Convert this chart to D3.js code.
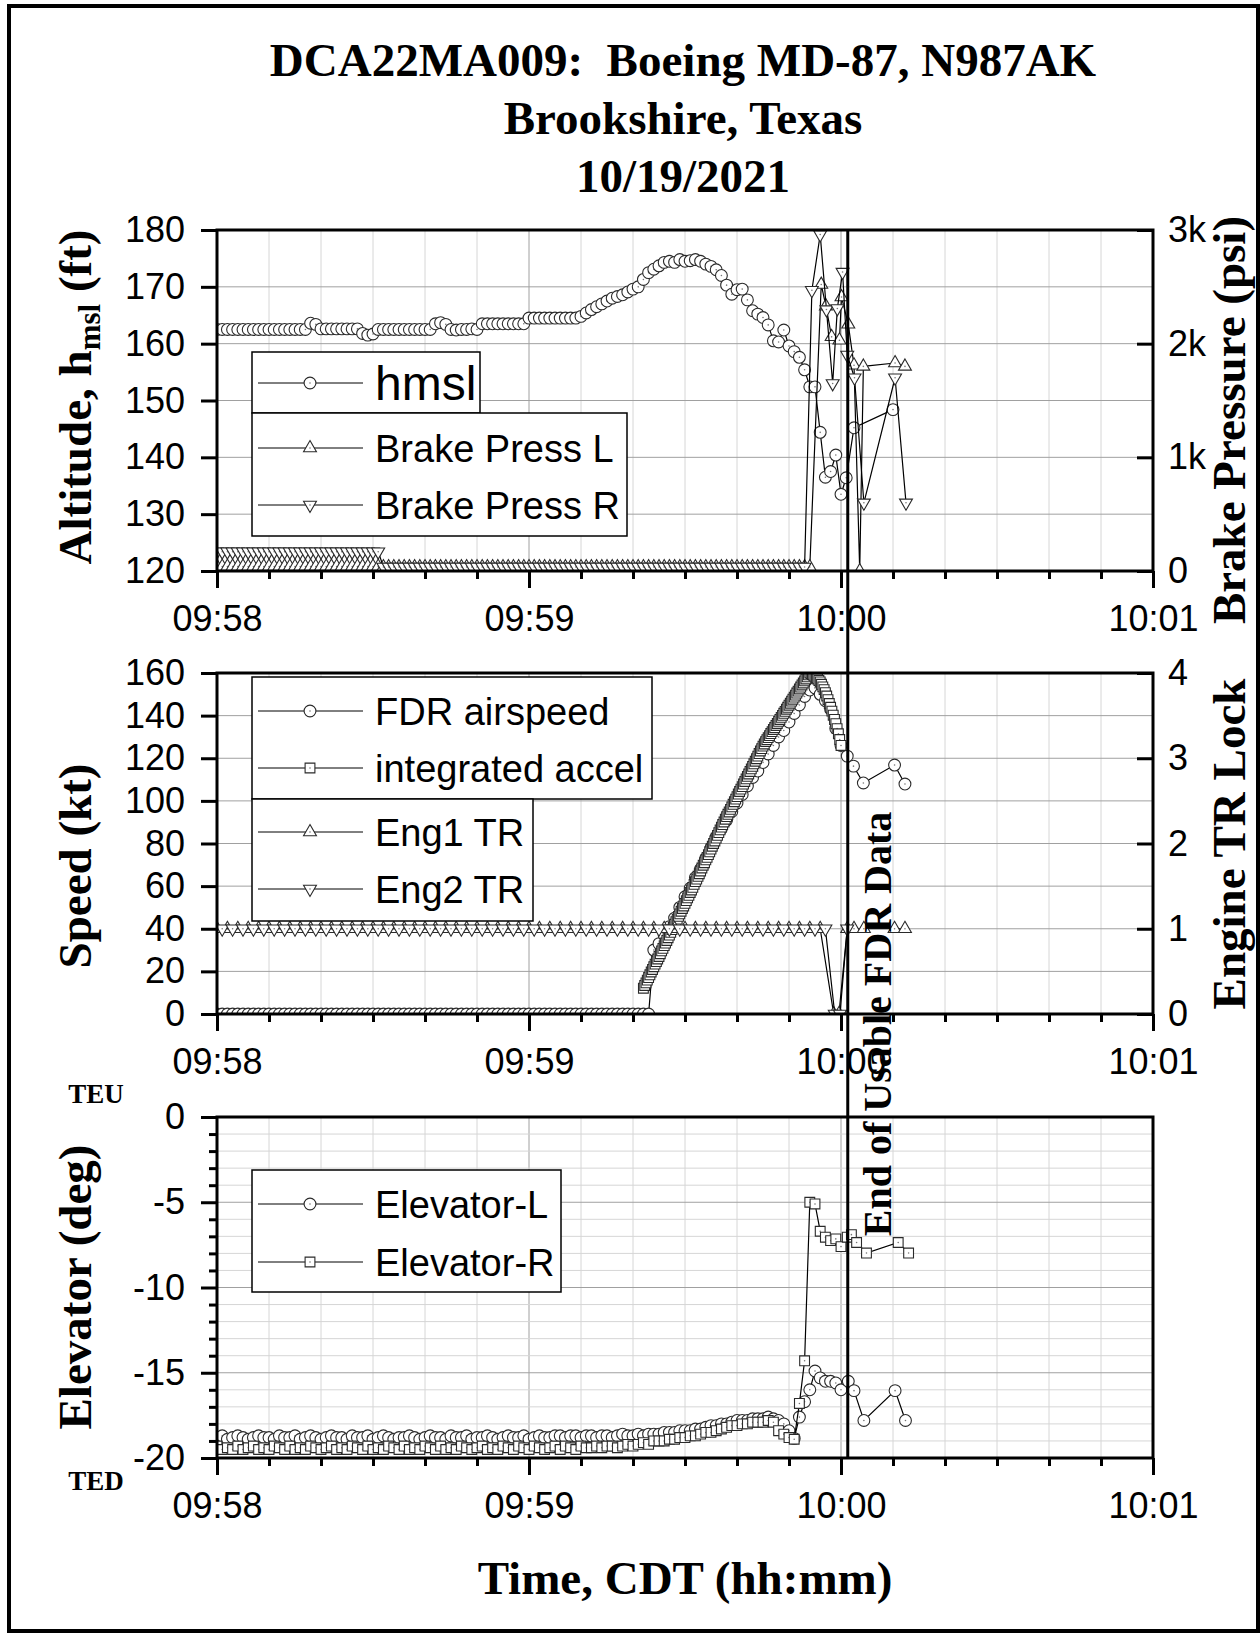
<!DOCTYPE html>
<html>
<head>
<meta charset="utf-8">
<script src="https://d3js.org/d3.v7.min.js"></script>
<style>
  body { margin: 0; background: #fff; }
</style>
</head>
<body>
<script>

// time axis: seconds after 09:58:00
var majorTimes = [0, 60, 120, 180];
var majorLabels = ["09:58", "09:59", "10:00", "10:01"];
var endOfDataTime = 121.3;

// hmsl (ft), 1 Hz from 09:58:00
var hmslValues = [
  162.5,162.5,162.5,162.5,162.5,162.5,162.5,162.5,162.5,162.5,
  162.5,162.5,162.5,162.5,162.5,162.5,162.5,162.5,163.6,163.4,
  162.6,162.6,162.6,162.6,162.6,162.6,162.6,162.6,161.8,161.5,
  161.7,162.5,162.5,162.5,162.5,162.5,162.5,162.5,162.5,162.5,
  162.5,162.5,163.5,163.7,163.4,162.5,162.4,162.5,162.5,162.6,
  162.5,163.5,163.5,163.5,163.5,163.5,163.5,163.5,163.5,163.5,
  164.5,164.5,164.5,164.5,164.5,164.5,164.5,164.5,164.5,164.5,
  164.8,165.4,166.0,166.5,167.0,167.5,168.0,168.3,168.6,169.1,
  169.6,170.0,171.3,172.5,173.1,173.7,174.3,174.5,174.3,174.8,
  174.5,174.6,174.8,174.5,174.0,173.6,173.0,172.0,170.3,168.7,
  169.5,169.6,167.7,165.8,165.2,164.6,163.3,160.5,160.3,162.4,
  159.6,158.6,157.6,155.4,152.4,152.4,144.4,136.5,137.5,140.4,
  133.5,136.4
];
var hmslLateTime = [122.5, 130.0];
var hmslLateValues = [145.2, 148.4];

// brake pressure (psi), 1 Hz from 09:58:00
var brakeLValues = [
  40,40,40,40,40,40,40,40,40,40,40,40,40,40,40,40,
  40,40,40,40,40,40,40,40,40,40,40,40,40,40,40,40,
  35,35,35,35,35,35,35,35,35,35,35,35,35,35,35,35,
  35,35,35,35,35,35,35,35,35,35,35,35,35,35,35,35,
  35,35,35,35,35,35,35,35,35,35,35,35,35,35,35,35,
  35,35,35,35,35,35,35,35,35,35,35,35,35,35,35,35,
  35,35,35,35,35,35,35,35,35,35,35,35,35,35,35,35,
  35,35,35
];
var brakeLLateTime = [116.2, 117.1, 118.2, 119.7, 120.1, 121.4, 122.5, 123.6, 124.3, 130.4, 132.3];
var brakeLLateValues = [2520, 2330, 2060, 2030, 2410, 2170, 1810, 0, 1800, 1830, 1800];

var brakeRValues = [
  170,170,170,170,170,170,170,170,170,170,170,170,170,170,170,170,
  170,170,170,170,170,170,170,170,170,170,170,170,170,170,170,170,
  35,35,35,35,35,35,35,35,35,35,35,35,35,35,35,35,
  35,35,35,35,35,35,35,35,35,35,35,35,35,35,35,35,
  35,35,35,35,35,35,35,35,35,35,35,35,35,35,35,35,
  35,35,35,35,35,35,35,35,35,35,35,35,35,35,35,35,
  35,35,35,35,35,35,35,35,35,35,35,35,35,35,35,35,
  35,35
];
var brakeRLateTime = [114.4, 116.0, 117.2, 118.4, 119.3, 120.3, 121.2, 122.6, 124.4, 130.4, 132.5];
var brakeRLateValues = [2470, 2960, 2300, 1650, 2310, 2630, 1900, 1700, 600, 1700, 600];

// FDR airspeed (kt), 1 Hz from 09:58:00
var airspeedValues = [
  0,0,0,0,0,0,0,0,0,0,0,0,0,0,0,0,0,0,0,0,0,
  0,0,0,0,0,0,0,0,0,0,0,0,0,0,0,0,0,0,0,0,0,
  0,0,0,0,0,0,0,0,0,0,0,0,0,0,0,0,0,0,0,0,0,
  0,0,0,0,0,0,0,0,0,0,0,0,0,0,0,0,0,0,0,0,0,
  30,33,37,41,45,50,55,59,64,68,
  73,78,83,87,91,95,99,103,107,111,
  114,118,122,126,130,133,137,141,145,149,
  152,153,150,147,143,134,126
];
var airspeedLateTime = [121.2, 122.4, 124.3, 130.3, 132.3];
var airspeedLateValues = [121, 116.3, 108.4, 116.8, 107.9];

// integrated accel (kt), 4 Hz from 09:59:22
var accelStart = 82;
var accelValues = [
  12.1,13.4,14.6,15.9,  17.1,18.4,19.7,20.9,  22.2,23.4,24.6,25.8,  27.0,28.3,29.6,30.8,
  32.1,33.3,34.5,35.8,  37.0,38.3,39.6,40.8,  42.1,43.3,44.5,45.8,  47.0,48.2,49.5,50.7,
  51.9,53.2,54.5,55.7,  57.0,58.2,59.4,60.8,  62.1,63.3,64.6,65.8,  67.1,68.5,69.8,71.0,
  72.3,73.5,74.8,76.1,  77.4,78.7,80.0,81.2,  82.5,83.8,85.1,86.4,  87.7,88.9,90.1,91.4,
  92.6,93.7,94.8,96.0,  97.2,98.4,99.6,100.8, 102.0,103.2,104.4,105.5, 106.7,107.9,109.1,110.3,
  111.5,112.6,113.8,115.0, 116.2,117.4,118.6,119.8, 121.0,122.2,123.4,124.5, 125.7,126.7,127.8,128.7,
  129.7,130.6,131.6,132.5, 133.5,134.4,135.4,136.3, 137.3,138.2,139.2,140.1, 141.1,142.0,143.0,143.9,
  144.9,145.8,146.8,147.7, 148.7,149.6,150.6,151.5, 152.5,153.4,154.4,155.3, 156.3,157.2,158.2,159.1,
  160.0,159.7,159.3,158.9, 158.4,157.8,157.2,156.5, 155.8,154.7,153.5,152.2, 150.8,149.2,147.5,145.7,
  143.9,142.1,140.2,138.2, 136.2,133.9,131.5,128.8, 126.0
];

// engine TR lock, every 2 s (Eng1 even seconds, Eng2 odd seconds)
var eng1Values = [
  1,1,1,1,1,1,1,1,1,1,1,1,1,1,1,1,1,1,1,1,
  1,1,1,1,1,1,1,1,1,1,1,1,1,1,1,1,1,1,1,1,
  1,1,1,1,1,1,1,1,1,1,1,1,1,1,1,1,1,1,1
];
var eng1LateTime = [118.6, 119.6, 121.2, 122.5, 124.4, 130.3, 132.3];
var eng1LateValues = [0, 0, 1, 1, 1, 1, 1];
var eng2Values = [
  1,1,1,1,1,1,1,1,1,1,1,1,1,1,1,1,1,1,1,1,
  1,1,1,1,1,1,1,1,1,1,1,1,1,1,1,1,1,1,1,1,
  1,1,1,1,1,1,1,1,1,1,1,1,1,1,1,1,1,1,1
];
var eng2LateTime = [118.8, 119.8, 121.2];
var eng2LateValues = [0, 0, 1];

// elevator (deg), 1 Hz from 09:58:00
var elevLValues = [
  -18.8,-18.7,-18.9,-18.8,-18.7,-18.8,-18.9,-18.8,-18.7,-18.8,
  -18.8,-18.9,-18.7,-18.8,-18.8,-18.7,-18.9,-18.8,-18.7,-18.8,
  -18.9,-18.8,-18.7,-18.8,-18.8,-18.9,-18.7,-18.8,-18.8,-18.7,
  -18.9,-18.8,-18.7,-18.8,-18.9,-18.8,-18.8,-18.7,-18.8,-18.9,
  -18.8,-18.7,-18.8,-18.8,-18.9,-18.7,-18.8,-18.8,-18.7,-18.9,
  -18.8,-18.8,-18.7,-18.8,-18.9,-18.8,-18.7,-18.8,-18.8,-18.7,
  -18.9,-18.8,-18.7,-18.8,-18.8,-18.7,
  -18.7,-18.8,-18.7,-18.7,-18.8,-18.7,-18.7,-18.8,-18.7,-18.7,
  -18.8,-18.7,-18.6,-18.7,-18.7,-18.6,-18.7,-18.6,-18.6,-18.6,
  -18.5,-18.5,-18.5,-18.4,-18.4,-18.4,-18.3,-18.3,-18.2,-18.1,
  -18.1,-18.0,-18.0,-17.9,-17.8,-17.8,-17.8,-17.7,-17.7,-17.7,
  -17.6,-17.7,-17.8,-18.0,-18.4,-18.85,-17.6,-16.7,-16.0,-14.9,
  -15.3,-15.5,-15.5,-15.6,-16.0
];
var elevLLateTime = [121.4, 122.5, 124.4, 130.4, 132.4];
var elevLLateValues = [-15.5, -16.05, -17.8, -16.05, -17.8];

var elevRValues = [
  -19.3,-19.5,-19.4,-19.5,-19.3,-19.5,-19.4,-19.3,-19.5,-19.4,
  -19.5,-19.3,-19.4,-19.5,-19.3,-19.5,-19.4,-19.5,-19.3,-19.4,
  -19.5,-19.4,-19.3,-19.5,-19.4,-19.5,-19.3,-19.4,-19.5,-19.3,
  -19.5,-19.4,-19.5,-19.3,-19.4,-19.5,-19.3,-19.5,-19.4,-19.5,
  -19.3,-19.4,-19.5,-19.3,-19.5,-19.4,-19.5,-19.3,-19.4,-19.5,
  -19.4,-19.3,-19.5,-19.4,-19.5,-19.3,-19.4,-19.5,-19.3,-19.4,
  -19.5,-19.3,-19.4,-19.5,-19.4,-19.3,
  -19.5,-19.3,-19.4,-19.5,-19.3,-19.4,-19.4,-19.3,-19.4,-19.3,
  -19.3,-19.4,-19.3,-19.2,-19.3,-19.2,-19.1,-19.2,-19.0,-19.0,
  -19.0,-18.9,-18.9,-18.8,-18.8,-18.7,-18.7,-18.6,-18.5,-18.5,
  -18.4,-18.3,-18.2,-18.1,-18.1,-18.0,-18.0,-17.9,-17.9,-17.9,
  -17.8,-17.9,-18.4,-18.6,-18.8,-18.9,-16.8,-14.3,-5.0,-5.1,
  -6.7,-7.05,-7.25,-7.15,-7.6
];
var elevRLateTime = [121.2, 122.0, 123.0, 124.9, 131.0, 133.0];
var elevRLateValues = [-7.05, -6.9, -7.36, -7.98, -7.36, -7.98];

// layout
var width = 1260, height = 1634;
var left = 217, right = 1153;
var panelTops = [230, 673, 1117];
var panelHeight = 341;
var tickFont = "'Liberation Sans', Arial, sans-serif";
var titleFont = "'Liberation Serif', 'Times New Roman', serif";

var svg = d3.select("body").append("svg").attr("width", width).attr("height", height);
svg.append("rect").attr("width", width).attr("height", height).attr("fill", "#fff");

var x = d3.scaleLinear().domain([0, 180]).range([left, right]);

function regular(t0, step, values) {
  return values.map(function(v, i) { return { t: t0 + i * step, v: v }; });
}
function irregular(times, values) {
  return times.map(function(t, i) { return { t: t, v: values[i] }; });
}

var shapes = {
  circle: { type: d3.symbolCircle, size: 110, rot: 0 },
  square: { type: d3.symbolSquare, size: 96, rot: 0 },
  up: { type: d3.symbolTriangle, size: 72, rot: 0 },
  down: { type: d3.symbolTriangle, size: 72, rot: 180 }
};

function drawMarker(g, cx, cy, shape) {
  var s = shapes[shape];
  g.append("path")
    .attr("d", d3.symbol().type(s.type).size(s.size)())
    .attr("transform", "translate(" + cx + "," + cy + ") rotate(" + s.rot + ")")
    .attr("fill", "#fff").attr("stroke", "#2a2a2a").attr("stroke-width", 1.1);
  g.append("circle").attr("cx", cx).attr("cy", cy).attr("r", 0.8).attr("fill", "#777");
}

function drawSeries(g, pts, y, shape) {
  var line = d3.line().x(function(d) { return x(d.t); }).y(function(d) { return y(d.v); });
  g.append("path").datum(pts).attr("d", line)
    .attr("fill", "none").attr("stroke", "#000").attr("stroke-width", 1.2);
  pts.forEach(function(d) { drawMarker(g, x(d.t), y(d.v), shape); });
}

function drawPanel(i, yLeft, leftTicks, leftMinor, gridY, gridMinorY) {
  var top = panelTops[i], bottom = top + panelHeight;
  var g = svg.append("g");

  // grid
  d3.range(10, 180, 10).forEach(function(t) {
    g.append("line").attr("x1", x(t)).attr("x2", x(t)).attr("y1", top).attr("y2", bottom)
      .attr("stroke", t % 60 === 0 ? "#a0a0a0" : "#d6d6d6").attr("stroke-width", 1);
  });
  (gridMinorY || []).forEach(function(v) {
    g.append("line").attr("x1", left).attr("x2", right).attr("y1", yLeft(v)).attr("y2", yLeft(v))
      .attr("stroke", "#d6d6d6").attr("stroke-width", 1);
  });
  gridY.forEach(function(v) {
    g.append("line").attr("x1", left).attr("x2", right).attr("y1", yLeft(v)).attr("y2", yLeft(v))
      .attr("stroke", "#a0a0a0").attr("stroke-width", 1);
  });

  svg.append("clipPath").attr("id", "clip" + i).append("rect")
    .attr("x", left).attr("y", top).attr("width", right - left).attr("height", panelHeight);
  var plot = svg.append("g").attr("clip-path", "url(#clip" + i + ")");

  // bottom axis: minor and major ticks
  var minorAxis = svg.append("g").attr("transform", "translate(0," + bottom + ")")
    .call(d3.axisBottom(x).tickValues(d3.range(0, 181, 10)).tickSize(8).tickFormat(""));
  var majorAxis = svg.append("g").attr("transform", "translate(0," + bottom + ")")
    .call(d3.axisBottom(x).tickValues(majorTimes).tickSize(17).tickPadding(17)
      .tickFormat(function(d, k) { return majorLabels[k]; }));

  // left axis
  var leftAxisG = svg.append("g").attr("transform", "translate(" + left + ",0)")
    .call(d3.axisLeft(yLeft).tickValues(leftTicks).tickSize(16).tickPadding(16)
      .tickFormat(function(d) { return String(d); }));
  var axes = [minorAxis, majorAxis, leftAxisG];
  if (leftMinor) {
    axes.push(svg.append("g").attr("transform", "translate(" + left + ",0)")
      .call(d3.axisLeft(yLeft).tickValues(leftMinor).tickSize(8).tickFormat("")));
  }
  axes.forEach(styleAxis);

  // frame
  svg.append("rect").attr("x", left).attr("y", top).attr("width", right - left).attr("height", panelHeight)
    .attr("fill", "none").attr("stroke", "#000").attr("stroke-width", 3);
  return plot;
}

function styleAxis(a) {
  a.select(".domain").remove();
  a.selectAll(".tick line").attr("stroke", "#000").attr("stroke-width", 3);
  a.selectAll(".tick text").attr("fill", "#000").style("font-family", tickFont).style("font-size", "36px");
}

function drawRightAxis(yRight, ticks, fmt) {
  var a = svg.append("g").attr("transform", "translate(" + right + ",0)")
    .call(d3.axisRight(yRight).tickValues(ticks).tickSizeInner(-16).tickSizeOuter(0).tickPadding(15).tickFormat(fmt));
  styleAxis(a);
}

// ---------- panel 1: altitude / brake pressure ----------
var yAlt = d3.scaleLinear().domain([120, 180]).range([panelTops[0] + panelHeight, panelTops[0]]);
var yPsi = d3.scaleLinear().domain([0, 3000]).range([panelTops[0] + panelHeight, panelTops[0]]);
var p1 = drawPanel(0, yAlt, d3.range(120, 181, 10), null, d3.range(130, 180, 10));
drawSeries(p1, regular(0, 1, hmslValues).concat(irregular(hmslLateTime, hmslLateValues)), yAlt, "circle");
drawSeries(p1, regular(0, 1, brakeLValues).concat(irregular(brakeLLateTime, brakeLLateValues)), yPsi, "up");
drawSeries(p1, regular(0, 1, brakeRValues).concat(irregular(brakeRLateTime, brakeRLateValues)), yPsi, "down");
drawRightAxis(yPsi, [0, 1000, 2000, 3000], function(d) { return d === 0 ? "0" : (d / 1000) + "k"; });

// ---------- panel 2: speed / engine TR lock ----------
var ySpd = d3.scaleLinear().domain([0, 160]).range([panelTops[1] + panelHeight, panelTops[1]]);
var yTR = d3.scaleLinear().domain([0, 4]).range([panelTops[1] + panelHeight, panelTops[1]]);
var p2 = drawPanel(1, ySpd, d3.range(0, 161, 20), null, d3.range(20, 160, 20));
drawSeries(p2, regular(0, 1, airspeedValues).concat(irregular(airspeedLateTime, airspeedLateValues)), ySpd, "circle");
drawSeries(p2, regular(accelStart, 0.25, accelValues), ySpd, "square");
drawSeries(p2, regular(0, 2, eng1Values).concat(irregular(eng1LateTime, eng1LateValues)), yTR, "up");
drawSeries(p2, regular(1, 2, eng2Values).concat(irregular(eng2LateTime, eng2LateValues)), yTR, "down");
drawRightAxis(yTR, [0, 1, 2, 3, 4], d3.format("d"));

// ---------- panel 3: elevator ----------
var yElev = d3.scaleLinear().domain([-20, 0]).range([panelTops[2] + panelHeight, panelTops[2]]);
var elevMinor = d3.range(-19, 0, 1).filter(function(v) { return v % 5 !== 0; });
var p3 = drawPanel(2, yElev, [-20, -15, -10, -5, 0], elevMinor, [-15, -10, -5], elevMinor);
drawSeries(p3, regular(0, 1, elevLValues).concat(irregular(elevLLateTime, elevLLateValues)), yElev, "circle");
drawSeries(p3, regular(0, 1, elevRValues).concat(irregular(elevRLateTime, elevRLateValues)), yElev, "square");

// ---------- legends ----------
function legendBox(x0, y0, w, h) {
  svg.append("rect").attr("x", x0).attr("y", y0).attr("width", w).attr("height", h)
    .attr("fill", "#fff").attr("stroke", "#000").attr("stroke-width", 1.5);
}
function legendEntry(cy, shape, label, size) {
  svg.append("line").attr("x1", 258).attr("x2", 363).attr("y1", cy).attr("y2", cy)
    .attr("stroke", "#000").attr("stroke-width", 1);
  drawMarker(svg, 310, cy, shape);
  svg.append("text").attr("x", 375).attr("y", cy).attr("dy", "0.36em")
    .style("font-family", tickFont).style("font-size", (size || 38) + "px").text(label);
}
legendBox(252, 352, 228, 61);
legendEntry(383, "circle", "hmsl", 48);
legendBox(252, 413, 375, 123);
legendEntry(448, "up", "Brake Press L");
legendEntry(505, "down", "Brake Press R");

legendBox(252, 677, 400, 122);
legendEntry(711, "circle", "FDR airspeed");
legendEntry(768, "square", "integrated accel");
legendBox(252, 799, 281, 122);
legendEntry(832, "up", "Eng1 TR");
legendEntry(889, "down", "Eng2 TR");

legendBox(252, 1170, 309, 122);
legendEntry(1204, "circle", "Elevator-L");
legendEntry(1262, "square", "Elevator-R");

// ---------- titles ----------
var titleLines = ["DCA22MA009:  Boeing MD-87, N987AK", "Brookshire, Texas", "10/19/2021"];
titleLines.forEach(function(t, i) {
  svg.append("text").attr("x", 683).attr("y", 76 + i * 58)
    .attr("text-anchor", "middle").style("white-space", "pre")
    .style("font-family", titleFont).style("font-weight", "bold").style("font-size", "47px")
    .text(t);
});

function vTitle(xp, yp, size) {
  return svg.append("text").attr("transform", "translate(" + xp + "," + yp + ") rotate(-90)")
    .attr("text-anchor", "middle")
    .style("font-family", titleFont).style("font-weight", "bold").style("font-size", size + "px");
}
var altTitle = vTitle(91, 397, 47);
altTitle.append("tspan").text("Altitude, h");
altTitle.append("tspan").attr("dy", 9).style("font-size", "31px").text("msl");
altTitle.append("tspan").attr("dy", -9).style("white-space", "pre").text(" (ft)");
vTitle(91, 866, 47).text("Speed (kt)");
vTitle(91, 1287, 47).text("Elevator (deg)");
vTitle(1245, 420, 47).text("Brake Pressure (psi)");
vTitle(1245, 844, 47).text("Engine TR Lock");

svg.append("text").attr("x", 685).attr("y", 1594).attr("text-anchor", "middle")
  .style("font-family", titleFont).style("font-weight", "bold").style("font-size", "47px")
  .text("Time, CDT (hh:mm)");

svg.append("text").attr("x", 96).attr("y", 1103).attr("text-anchor", "middle")
  .style("font-family", titleFont).style("font-weight", "bold").style("font-size", "27px").text("TEU");
svg.append("text").attr("x", 96).attr("y", 1490).attr("text-anchor", "middle")
  .style("font-family", titleFont).style("font-weight", "bold").style("font-size", "27px").text("TED");

// end of usable data marker
svg.append("line").attr("x1", x(endOfDataTime)).attr("x2", x(endOfDataTime))
  .attr("y1", panelTops[0]).attr("y2", panelTops[2] + panelHeight)
  .attr("stroke", "#000").attr("stroke-width", 3);
vTitle(x(endOfDataTime) + 43, 1024, 40).text("End of Usable FDR Data");

// outer border
svg.append("rect").attr("x", 9).attr("y", 6).attr("width", 1249).attr("height", 1625)
  .attr("fill", "none").attr("stroke", "#000").attr("stroke-width", 4);

</script>
</body>
</html>
